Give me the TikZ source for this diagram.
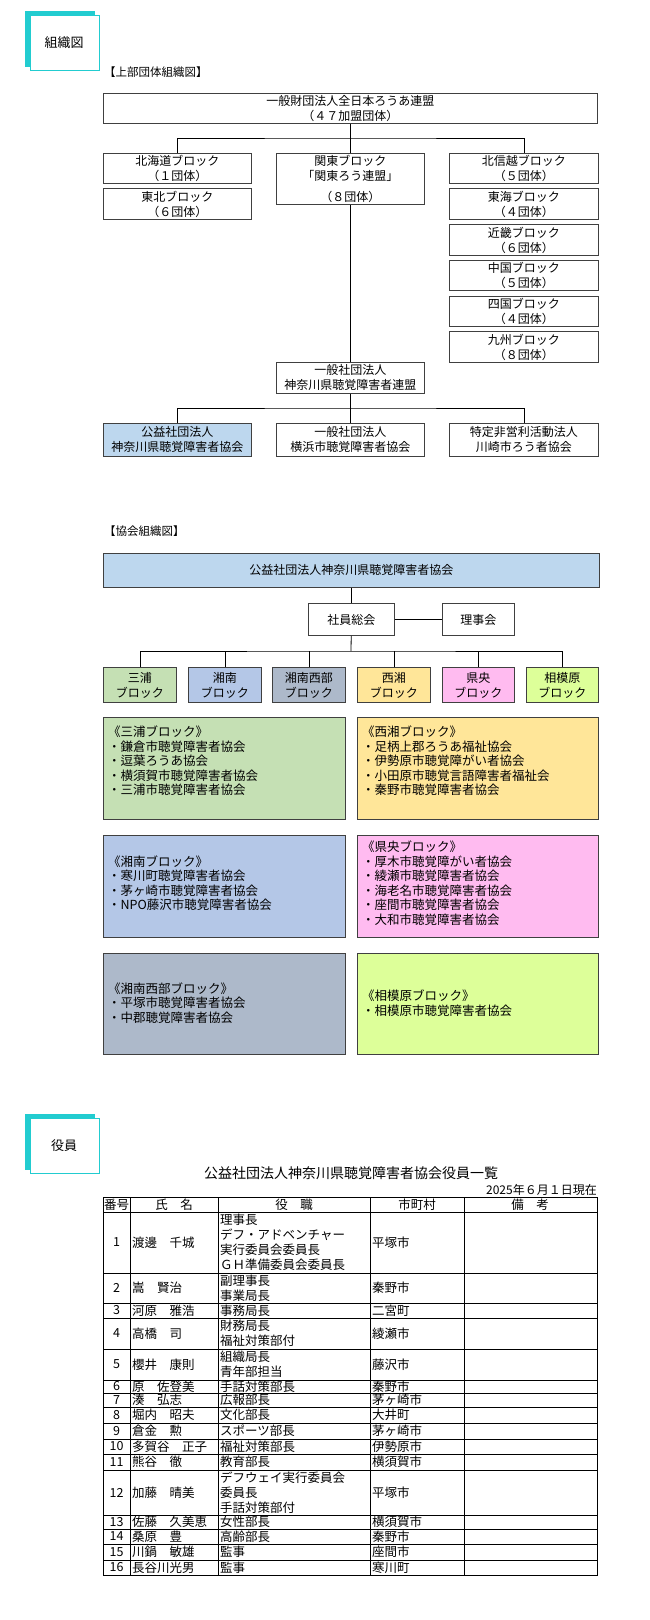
\documentclass[tikz,border=0pt]{standalone}
\usepackage{fontspec}
\setmainfont{Noto Sans CJK JP}
\usetikzlibrary{calc}
\usetikzlibrary{positioning}
\definecolor{tabteal}{RGB}{34,204,208}
\definecolor{kblue}{RGB}{189,215,238}
\definecolor{miuragreen}{RGB}{197,224,180}
\definecolor{shonanblue}{RGB}{180,199,231}
\definecolor{nishigray}{RGB}{173,185,202}
\definecolor{seishoyellow}{RGB}{255,230,153}
\definecolor{kenopink}{RGB}{255,187,240}
\definecolor{sagamilime}{RGB}{221,255,153}
\tikzset{
  orgbox/.style={draw=black!75, line width=0.9pt, anchor=north west, inner sep=0pt,
    align=center, font=\fontsize{12}{15}\selectfont},
  listbox/.style={draw=black!75, line width=0.9pt},
  listtext/.style={anchor=west, align=left, inner sep=0pt, font=\fontsize{12.5}{14.5}\selectfont},
  tabbox/.style={fill=white, draw=tabteal, line width=0.8pt},
  cell/.style={inner sep=0pt, font=\fontsize{12.5}{15}\selectfont, align=left},
}
\begin{document}
\begin{tikzpicture}[x=1pt,y=-1pt]
  \useasboundingbox (0,0) rectangle (650,1620);
  % tab: 組織図
  \fill [tabteal] (25,11) rectangle (95,67);
  \draw [tabbox] (30,15) rectangle (99,70);
  \node [font=\fontsize{13}{13}\selectfont] (tabsoshiki) at (64,43) {組織図};
  \node [anchor=west, inner sep=0pt, font=\fontsize{11.5}{12}\selectfont] (upperttl) at (104,72) {【上部団体組織図】};

  % upper organisations
  \node [orgbox, minimum width=494, minimum height=30] (zennichi) at (103,93) {一般財団法人全日本ろうあ連盟\\（４７加盟団体）};
  \node [orgbox, minimum width=148, minimum height=30] (hokkaido) at (103,153) {北海道ブロック\\（１団体）};
  \node [orgbox, minimum width=148, minimum height=31] (tohoku) at (103,188) {東北ブロック\\（６団体）};
  \node [orgbox, minimum width=148, minimum height=51] (kanto) at (276,153) {関東ブロック\\「関東ろう連盟」\\[6pt]（８団体）};
  \node [orgbox, minimum width=149, minimum height=30] (hokushin) at (449,153) {北信越ブロック\\（５団体）};
  \node [orgbox, minimum width=149, minimum height=31] (tokai) at (449,188) {東海ブロック\\（４団体）};
  \node [orgbox, minimum width=149, minimum height=31] (kinki) at (449,224) {近畿ブロック\\（６団体）};
  \node [orgbox, minimum width=149, minimum height=30] (chugoku) at (449,260) {中国ブロック\\（５団体）};
  \node [orgbox, minimum width=149, minimum height=30] (shikoku) at (449,296) {四国ブロック\\（４団体）};
  \node [orgbox, minimum width=149, minimum height=31] (kyushu) at (449,331) {九州ブロック\\（８団体）};
  \node [orgbox, minimum width=148, minimum height=31] (renmei) at (276,362) {一般社団法人\\神奈川県聴覚障害者連盟};
  \node [orgbox, fill=kblue, minimum width=148, minimum height=33] (kanagawa) at (103,423) {公益社団法人\\神奈川県聴覚障害者協会};
  \node [orgbox, minimum width=148, minimum height=33] (yokohama) at (276,423) {一般社団法人\\横浜市聴覚障害者協会};
  \node [orgbox, minimum width=149, minimum height=33] (kawasaki) at (449,423) {特定非営利活動法人\\川崎市ろう者協会};

  \coordinate (jbar) at (350,138);
  \coordinate (kbar) at (350,408);
  \draw [thick] (zennichi) -- (kanto);
  \draw [thick] (hokkaido.north) |- (jbar) -| (hokushin.north);
  \draw [thick] (kanto) -- (renmei);
  \draw [thick] (renmei) -- (yokohama);
  \draw [thick] (kanagawa.north) |- (kbar) -| (kawasaki.north);

  % association
  \node [anchor=west, inner sep=0pt, font=\fontsize{11.5}{12}\selectfont] (assocttl) at (104,531) {【協会組織図】};
  \node [orgbox, fill=kblue, minimum width=496, minimum height=34] (assoc) at (103,553) {公益社団法人神奈川県聴覚障害者協会};
  \node [orgbox, minimum width=86, minimum height=32] (sokai) at (308,603) {社員総会};
  \node [orgbox, minimum width=72, minimum height=32] (rijikai) at (442,603) {理事会};
  \node [orgbox, fill=miuragreen, minimum width=73, minimum height=35] (miura) at (103,667) {三浦\\ブロック};
  \node [orgbox, fill=shonanblue, minimum width=73, minimum height=35] (shonan) at (188,667) {湘南\\ブロック};
  \node [orgbox, fill=nishigray, minimum width=73, minimum height=35] (shonanw) at (272,667) {湘南西部\\ブロック};
  \node [orgbox, fill=seishoyellow, minimum width=73, minimum height=35] (seisho) at (357,667) {西湘\\ブロック};
  \node [orgbox, fill=kenopink, minimum width=72, minimum height=35] (keno) at (442,667) {県央\\ブロック};
  \node [orgbox, fill=sagamilime, minimum width=72, minimum height=35] (sagami) at (526,667) {相模原\\ブロック};

  \coordinate (bbar) at (351,651);
  \draw [thick] (assoc.south -| sokai) -- (sokai);
  \draw [thick] (sokai) -- (rijikai);
  \draw [thick] (sokai) -- (bbar);
  \draw [thick] (miura.north) |- (bbar) -| (sagami.north);
  \foreach \b in {shonan,shonanw,seisho,keno}
    \draw [thick] (\b.north) -- (\b.north |- bbar);

  % block lists
  \draw [listbox, fill=miuragreen] (103,717) rectangle (345,819);
  \node [listtext] (miuralist) at (108,761) {《三浦ブロック》\\・鎌倉市聴覚障害者協会\\・逗葉ろうあ協会\\・横須賀市聴覚障害者協会\\・三浦市聴覚障害者協会};
  \draw [listbox, fill=seishoyellow] (357,717) rectangle (598,819);
  \node [listtext] (seisholist) at (362,761) {《西湘ブロック》\\・足柄上郡ろうあ福祉協会\\・伊勢原市聴覚障がい者協会\\・小田原市聴覚言語障害者福祉会\\・秦野市聴覚障害者協会};
  \draw [listbox, fill=shonanblue] (103,835) rectangle (345,937);
  \node [listtext] (shonanlist) at (108,883) {《湘南ブロック》\\・寒川町聴覚障害者協会\\・茅ヶ崎市聴覚障害者協会\\・NPO藤沢市聴覚障害者協会};
  \draw [listbox, fill=kenopink] (357,835) rectangle (598,937);
  \node [listtext] (kenolist) at (362,883) {《県央ブロック》\\・厚木市聴覚障がい者協会\\・綾瀬市聴覚障害者協会\\・海老名市聴覚障害者協会\\・座間市聴覚障害者協会\\・大和市聴覚障害者協会};
  \draw [listbox, fill=nishigray] (103,953) rectangle (345,1054);
  \node [listtext] (shonanwlist) at (108,1003) {《湘南西部ブロック》\\・平塚市聴覚障害者協会\\・中郡聴覚障害者協会};
  \draw [listbox, fill=sagamilime] (357,953) rectangle (598,1054);
  \node [listtext] (sagamilist) at (362,1003) {《相模原ブロック》\\・相模原市聴覚障害者協会};

  % tab: 役員
  \fill [tabteal] (25,1114) rectangle (95,1170);
  \draw [tabbox] (30,1118) rectangle (99,1173);
  \node [font=\fontsize{13}{13}\selectfont] (tabyakuin) at (64,1146) {役員};

  % officer table
  \node [font=\fontsize{14}{14}\selectfont] (tblttl) at (351,1173) {公益社団法人神奈川県聴覚障害者協会役員一覧};
  \node [anchor=east, inner sep=0pt, font=\fontsize{12}{12}\selectfont] (tbldate) at (597,1190) {2025年６月１日現在};
  \draw [thick] (103,1197) rectangle (597,1575);
  \foreach \x in {130,218,370,464}
    \draw [thick] (\x,1197) -- (\x,1575);
  \draw [thick] (103,1212) -- (597,1212);
  \node [cell] (h1) at (116.5,1204.5) {番号};
  \node [cell] (h2) at (174,1204.5) {氏　名};
  \node [cell] (h3) at (294,1204.5) {役　職};
  \node [cell] (h4) at (417,1204.5) {市町村};
  \node [cell] (h5) at (530,1204.5) {備　考};
  \foreach \t/\b/\n/\nm/\r/\c in {
      1212/1273/1/{渡邊　千城}/{理事長\\デフ・アドベンチャー\\実行委員会委員長\\ＧＨ準備委員会委員長}/平塚市,
      1273/1303/2/{嵩　賢治}/{副理事長\\事業局長}/秦野市,
      1303/1318/3/{河原　雅浩}/{事務局長}/二宮町,
      1318/1349/4/{高橋　司}/{財務局長\\福祉対策部付}/綾瀬市,
      1349/1380/5/{櫻井　康則}/{組織局長\\青年部担当}/藤沢市,
      1380/1393/6/{原　佐登美}/{手話対策部長}/秦野市,
      1393/1407/7/{湊　弘志}/{広報部長}/茅ヶ崎市,
      1407/1423/8/{堀内　昭夫}/{文化部長}/大井町,
      1423/1439/9/{倉金　勲}/{スポーツ部長}/茅ヶ崎市,
      1439/1454/10/{多賀谷　正子}/{福祉対策部長}/伊勢原市,
      1454/1470/11/{熊谷　徹}/{教育部長}/横須賀市,
      1470/1515/12/{加藤　晴美}/{デフウェイ実行委員会\\委員長\\手話対策部付}/平塚市,
      1515/1529/13/{佐藤　久美恵}/{女性部長}/横須賀市,
      1529/1544/14/{桑原　豊}/{高齢部長}/秦野市,
      1544/1560/15/{川鍋　敏雄}/{監事}/座間市,
      1560/1575/16/{長谷川光男}/{監事}/寒川町} {
    \draw [thick] (103,\b) -- (597,\b);
    \node [cell] (num\n) at (116.5,{(\t+\b)/2}) {\n};
    \node [cell, anchor=west] (name\n) at (132,{(\t+\b)/2}) {\nm};
    \node [cell, anchor=west] (role\n) at (220,{(\t+\b)/2}) {\r};
    \node [cell, anchor=west] (city\n) at (372,{(\t+\b)/2}) {\c};
  }
\end{tikzpicture}
\end{document}
